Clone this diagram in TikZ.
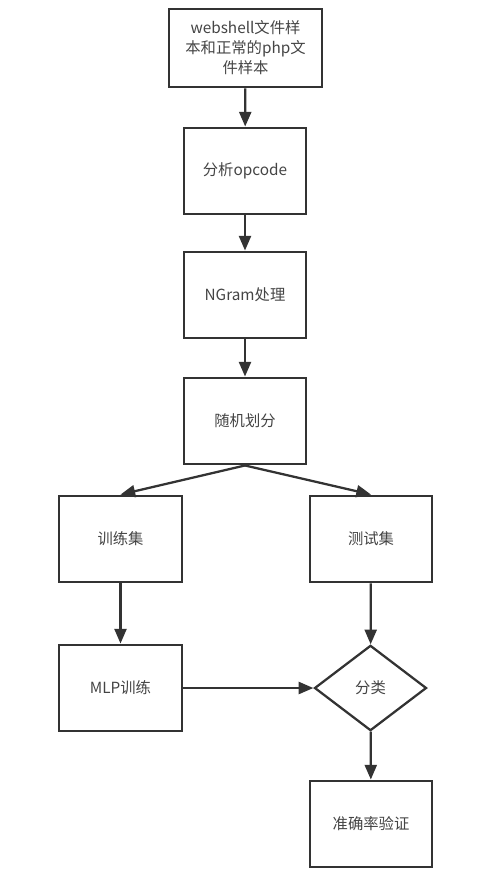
\documentclass[tikz,border=0pt]{standalone}
\usepackage{fontspec}
\setmainfont{Noto Sans CJK SC}
\usetikzlibrary{shapes.geometric,arrows.meta}
\definecolor{linegray}{HTML}{333333}
\definecolor{textgray}{HTML}{444444}

\begin{document}
\begin{tikzpicture}[x=0.75pt,y=-0.75pt,
  every node/.style={font=\fontsize{11.5}{15}\selectfont, text=textgray},
  box/.style={draw=linegray, line width=1.7pt, minimum width=92pt, minimum height=65pt, align=center, inner sep=2pt},
  choice/.style={draw=linegray, line width=1.7pt, diamond, aspect=1.3, minimum width=84pt, minimum height=64pt, inner sep=0pt},
  flow/.style={draw=linegray, line width=1.7pt, -{Triangle[length=11pt,width=9pt]}}]
  \useasboundingbox (0,0) rectangle (497,875);

  \node[box, minimum width=115pt, minimum height=59pt] (samples) at (245.5,48) {webshell文件样\\本和正常的php文\\件样本};
  \node[box] (opcode) at (245,171) {分析opcode};
  \node[box] (ngram) at (245,295) {NGram处理};
  \node[box] (split) at (245,421) {随机划分};

  \node[box] (trainset) at (120.5,539) {训练集};
  \node[box] (testset) at (371,539) {测试集};
  \node[box] (mlp) at (120.5,688) {MLP训练};
  \node[choice] (classify) at (370.5,688) {分类};
  \node[box] (accuracy) at (371,824) {准确率验证};

  \draw[flow] (samples) -- (opcode);
  \draw[flow] (opcode) -- (ngram);
  \draw[flow] (ngram) -- (split);
  \draw[flow] (split.south) -- (trainset.north);
  \draw[flow] (split.south) -- (testset.north);
  \draw[flow] (trainset) -- (mlp);
  \draw[flow] (testset) -- (classify);
  \draw[flow] (mlp) -- (classify);
  \draw[flow] (classify) -- (accuracy);
\end{tikzpicture}
\end{document}
